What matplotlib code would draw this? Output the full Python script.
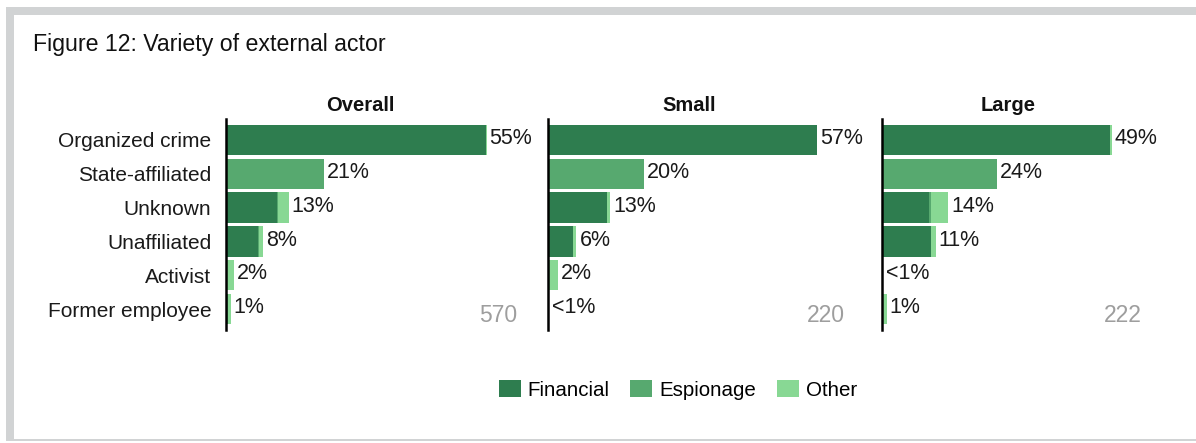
import matplotlib
matplotlib.use("Agg")
import matplotlib.pyplot as plt
from matplotlib.patches import Patch, Rectangle
import numpy as np

plt.rcParams['font.family'] = ['Liberation Sans', 'DejaVu Sans']

# ---------------- data ----------------
categories = ["Organized crime", "State-affiliated", "Unknown",
              "Unaffiliated", "Activist", "Former employee"]
panels = ["Overall", "Small", "Large"]
counts = [570, 220, 222]
series_names = ["Financial", "Espionage", "Other"]

financial_overall = [55.0, 0.0, 10.8, 6.8, 0.0, 0.0]
espionage_overall = [0.0, 20.7, 0.2, 0.2, 0.0, 0.5]
other_overall = [0.2, 0.0, 2.3, 0.8, 1.7, 0.5]
labels_overall = ["55%", "21%", "13%", "8%", "2%", "1%"]

financial_small = [57.0, 0.0, 12.5, 5.4, 0.0, 0.0]
espionage_small = [0.0, 20.3, 0.0, 0.0, 0.0, 0.0]
other_small = [0.0, 0.0, 0.6, 0.6, 2.1, 0.3]
labels_small = ["57%", "20%", "13%", "6%", "2%", "<1%"]

financial_large = [48.2, 0.0, 10.0, 10.4, 0.0, 0.0]
espionage_large = [0.0, 24.4, 0.4, 0.0, 0.0, 0.0]
other_large = [0.5, 0.0, 3.6, 1.0, 0.3, 1.0]
labels_large = ["49%", "24%", "14%", "11%", "<1%", "1%"]

panel_data = [
    (financial_overall, espionage_overall, other_overall, labels_overall),
    (financial_small, espionage_small, other_small, labels_small),
    (financial_large, espionage_large, other_large, labels_large),
]

colors = ["#2e7d4f", "#57a96f", "#88d894"]

# ---------------- layout ----------------
W, H = 1196, 443
fig = plt.figure(figsize=(W / 100, H / 100), dpi=100)
fig.patch.set_facecolor("white")

border = "#d1d3d4"
def px_rect(x0, y0, x1, y1):
    fig.patches.append(Rectangle((x0 / W, 1 - y1 / H), (x1 - x0) / W, (y1 - y0) / H,
                                 transform=fig.transFigure, color=border, lw=0, zorder=0))
px_rect(6, 7, W, 15)
px_rect(6, 7, 14, 441)
px_rect(6, 439, W, 441)

fig.text(33 / W, 1 - 51 / H, "Figure 12: Variety of external actor",
         fontsize=16.7, va="baseline", ha="left", color="#111111")

scale = 4.72  # px per percent
ax_lefts = [226, 548, 882]
ax_widths = [268, 282, 252]
count_x_px = [517, 845, 1142]
top_px, bot_px = 119, 330

y = np.arange(len(categories))
for i, (fin, esp, oth, labs) in enumerate(panel_data):
    l = ax_lefts[i]
    w = ax_widths[i]
    ax = fig.add_axes([l / W, 1 - bot_px / H, w / W, (bot_px - top_px) / H])
    ax.set_xlim(0, w / scale)
    ax.set_ylim(5.62, -0.62)
    fin = np.array(fin); esp = np.array(esp); oth = np.array(oth)
    ax.barh(y, fin, height=0.9, color=colors[0], lw=0)
    ax.barh(y, esp, left=fin, height=0.9, color=colors[1], lw=0)
    ax.barh(y, oth, left=fin + esp, height=0.9, color=colors[2], lw=0)
    tot = fin + esp + oth
    for yi, t, lab in zip(y, tot, labs):
        ax.annotate(lab, (t, yi), xytext=(2.2, 1.0), textcoords="offset points",
                    va="center", ha="left", fontsize=15.5, color="#1a1a1a",
                    annotation_clip=False)
    for s in ["top", "right", "bottom"]:
        ax.spines[s].set_visible(False)
    ax.spines["left"].set_linewidth(1.8)
    ax.spines["left"].set_color("black")
    ax.set_xticks([])
    ax.set_yticks(y)
    if i == 0:
        ax.set_yticklabels(categories, fontsize=15, color="#1a1a1a")
    else:
        ax.set_yticklabels([])
    ax.tick_params(axis="y", length=0, pad=10.5)
    ax.set_title(panels[i], fontsize=14.5, fontweight="bold", pad=6, color="#111111")
    ax.text((count_x_px[i] - l) / scale, 5.18, str(counts[i]), ha="right", va="center",
            fontsize=16.5, color="#9e9e9e", clip_on=False)
    ax.patch.set_alpha(0)

handles = [Patch(facecolor=c, edgecolor="none", label=n) for c, n in zip(colors, series_names)]
fig.legend(handles=handles, loc="center", bbox_to_anchor=(678 / W, 1 - 390 / H), ncol=3,
           frameon=False, fontsize=14.8, handlelength=1.07, handleheight=0.88,
           handletextpad=0.35, columnspacing=1.0, borderaxespad=0, borderpad=0)

fig.savefig("out.png", dpi=100, facecolor="white")
